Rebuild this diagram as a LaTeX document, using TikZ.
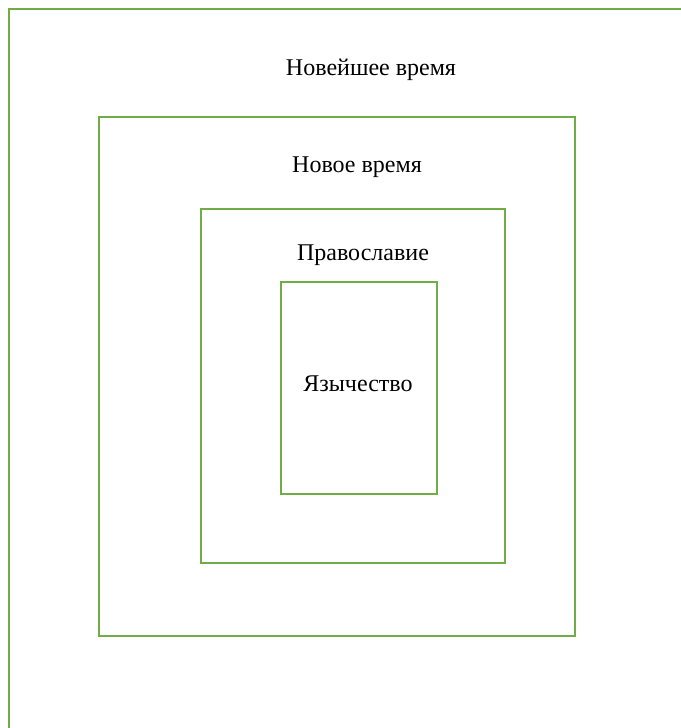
\documentclass[tikz,border=0pt]{standalone}
\usepackage{fontspec}
\setmainfont{Liberation Serif}
\usetikzlibrary{positioning}

\begin{document}
\begin{tikzpicture}[x=0.75pt,y=-0.75pt]

 \tikzset{
    frame/.style={
      rectangle,
      draw=eragreen,
      line width=1.1pt,
      inner sep=0mm,
      outer sep=0mm
    },
    label/.style={
      font=\fontsize{18pt}{21pt}\selectfont,
      inner sep=0mm
    }
  }
\definecolor{eragreen}{RGB}{112,173,71}

\useasboundingbox (0,0) rectangle (681,728);

% nested frames
\node[frame, minimum width=518.25pt, minimum height=555.75pt] (newest) at (354.5,379.5) {};
\node[frame, minimum width=357pt, minimum height=389.25pt] (modern) at (337,376.5) {};
\node[frame, minimum width=228pt, minimum height=265.5pt] (orthodox) at (353,386) {};
\node[frame, minimum width=117pt, minimum height=159pt] (pagan) at (359,388) {};

% era names
\node[label] (newestname) at (371,70) {Новейшее время};
\node[label] (modernname) at (357,167) {Новое время};
\node[label] (orthodoxname) at (363,255) {Православие};
\node[label] (paganname) at (358,384) {Язычество};

\end{tikzpicture}
\end{document}
